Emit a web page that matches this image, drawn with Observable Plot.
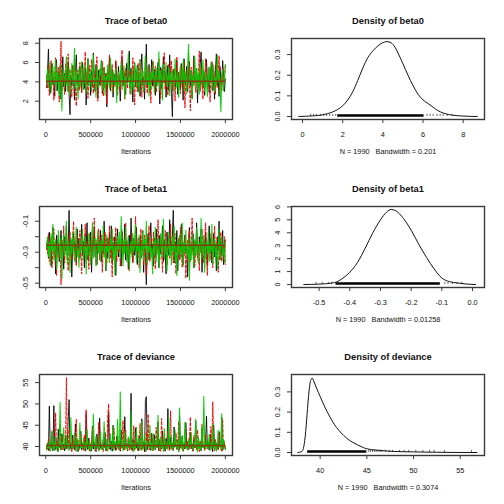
<!DOCTYPE html>
<html><head><meta charset="utf-8">
<script src="https://cdn.jsdelivr.net/npm/d3@7"></script>
<script src="https://cdn.jsdelivr.net/npm/@observablehq/plot@0.6"></script>
<style>
html,body{margin:0;padding:0;background:#fff;}
#grid{display:grid;grid-template-columns:252px 252px;grid-template-rows:168px 168px 168px;width:504px;height:504px;overflow:hidden;}
#grid svg{display:block;overflow:visible;}
</style></head><body><div id="grid"></div>
<script>
// ---- iterations (thinned draws: 10000 .. 2000000 every 10000) ----
const iterStart = 10000;
const iterThin = 10000;
const traceXTicks = [0, 500000, 1000000, 1500000, 2000000];

// ---- beta0 chains ----
const beta0Chain1 = [3.4,5.1,7.4,4.0,2.8,4.6,5.9,3.7,4.3,2.5,5.4,6.3,3.1,4.8,3.9,5.6,2.2,4.4,6.6,3.5,
4.9,3.0,5.2,4.1,6.1,2.7,0.6,4.5,3.6,5.7,4.2,2.1,5.0,6.8,3.8,4.7,3.2,5.5,4.0,2.9,
6.0,4.3,3.3,5.3,1.6,4.6,6.4,3.9,4.8,2.6,5.1,3.5,7.0,4.4,3.0,5.8,4.1,2.3,5.2,3.7,
4.5,6.2,2.8,4.0,5.5,3.4,4.9,1.4,5.0,4.2,6.7,3.1,4.6,5.3,2.4,4.8,3.8,6.1,4.3,3.2,
5.6,4.0,2.0,4.7,6.5,3.6,5.1,4.4,2.7,5.9,3.9,4.6,7.2,3.3,5.4,4.1,1.9,4.9,6.0,3.5,
4.2,5.7,3.0,4.8,2.5,5.2,6.9,3.7,4.5,2.2,5.0,7.9,3.4,4.3,5.8,2.9,4.6,6.3,3.6,4.1,
5.3,2.6,4.9,3.8,6.0,4.4,1.7,5.5,3.3,4.7,6.6,3.9,5.1,2.4,4.2,5.7,3.1,6.8,4.5,2.8,
0.4,4.6,5.3,3.5,4.0,6.2,2.7,5.0,4.3,3.2,5.9,4.8,2.1,6.4,3.7,4.4,5.6,3.0,4.9,6.1,
3.6,5.2,2.3,4.7,6.7,3.9,4.1,5.4,1.8,4.6,3.3,5.8,7.1,4.0,3.4,5.1,2.6,4.8,6.3,3.8,
4.5,2.9,5.5,4.2,6.0,3.1,4.9,2.2,5.3,6.9,3.7,4.4,2.5,5.6,4.1,3.5,6.2,4.7,3.0,4.3];
const beta0Chain2 = [4.7,3.3,5.8,2.6,4.4,6.2,3.9,5.1,2.1,4.9,6.5,3.6,4.2,5.5,1.9,4.6,8.2,3.2,5.0,4.1,
2.7,5.9,3.8,4.5,6.9,3.0,5.3,4.0,2.4,5.6,4.3,6.4,3.5,1.5,4.8,5.2,3.1,6.0,4.4,2.9,
5.4,3.7,4.6,7.1,3.3,5.0,2.3,4.2,5.7,3.9,6.3,4.7,2.8,5.1,3.4,4.9,6.6,2.0,4.5,5.3,
3.6,4.1,6.1,2.5,5.5,3.8,4.8,1.7,5.2,4.3,6.8,3.2,4.6,5.8,2.9,4.0,3.5,6.2,4.9,2.6,
5.0,4.4,3.1,5.7,7.3,3.7,4.2,2.2,5.4,4.7,3.3,6.0,4.5,2.7,5.1,3.9,6.5,4.1,1.6,5.3,
4.6,3.0,5.9,3.6,6.3,4.8,2.4,5.2,4.0,3.4,6.7,4.3,2.8,5.5,3.8,4.9,1.8,5.0,6.1,3.5,
4.2,5.6,2.9,4.7,3.9,6.4,4.4,2.3,5.3,3.7,4.8,7.0,3.2,5.1,4.1,2.6,5.8,3.6,4.5,6.2,
3.1,4.9,5.4,2.0,4.3,6.6,3.8,5.0,4.6,2.8,5.7,3.4,4.2,6.0,1.3,4.7,5.2,3.3,6.9,4.0,
1.0,5.5,4.4,3.7,6.3,4.1,2.9,5.1,3.5,4.8,7.2,3.0,5.6,4.3,2.2,5.0,3.9,6.4,4.6,3.2,
5.3,4.0,1.9,4.7,6.1,3.6,5.2,4.4,2.7,5.8,3.4,4.9,6.7,3.1,4.5,3.0,5.4,3.8,4.2,5.9];
const beta0Chain3 = [4.1,5.3,3.4,4.8,6.0,2.9,4.5,5.6,3.7,4.2,6.3,3.1,5.0,4.4,2.5,5.8,3.9,1.0,4.7,5.2,
3.6,4.9,6.6,3.0,4.3,5.5,2.7,4.0,5.9,3.8,4.6,7.5,3.3,5.1,4.2,2.2,5.4,3.5,4.8,6.1,
4.0,3.2,5.7,4.5,2.8,5.0,6.4,3.6,4.3,5.3,3.0,4.9,6.8,3.9,4.4,2.4,5.6,4.1,3.4,5.2,
4.7,6.2,3.1,4.2,5.5,2.6,4.6,3.8,5.8,4.0,3.3,6.5,4.8,2.9,5.1,4.3,3.7,5.4,1.8,4.5,
5.0,3.5,4.1,6.0,3.2,4.9,5.7,2.3,4.4,3.9,5.2,6.9,3.6,4.6,2.7,5.3,4.0,3.1,5.9,4.7,
3.4,5.5,4.2,2.8,6.3,3.8,4.8,5.1,3.0,4.5,6.7,3.7,4.1,5.6,2.5,4.9,3.3,5.0,4.3,6.1,
2.9,4.6,5.4,3.6,4.0,7.1,3.2,5.2,4.4,2.1,5.8,3.9,4.7,6.0,3.5,4.2,5.5,2.6,4.9,3.8,
5.3,4.1,3.0,6.4,4.6,3.4,5.0,2.4,4.8,5.7,3.7,4.3,6.2,3.1,5.1,4.5,2.8,5.6,7.9,3.9,
4.4,5.2,2.2,4.7,3.6,6.6,4.0,5.4,3.3,4.9,2.7,5.9,4.2,3.5,6.3,4.6,3.0,5.0,4.1,2.5,
5.5,3.8,4.8,6.0,3.2,4.3,5.7,2.9,4.5,3.6,6.8,4.0,5.1,3.4,0.9,4.7,5.3,3.1,4.2,5.8];

// ---- beta1 chains ----
const beta1Chain1 = [-0.28,-0.21,-0.34,-0.17,-0.25,-0.39,-0.23,-0.14,-0.30,-0.26,-0.44,-0.19,-0.32,-0.22,-0.36,-0.27,-0.16,-0.31,-0.24,-0.41,
-0.20,-0.29,-0.13,-0.35,-0.25,-0.03,-0.33,-0.22,-0.46,-0.27,-0.18,-0.30,-0.24,-0.37,-0.15,-0.28,-0.21,-0.34,-0.26,-0.12,
-0.32,-0.23,-0.40,-0.19,-0.27,-0.11,-0.35,-0.25,-0.30,-0.17,-0.43,-0.22,-0.28,-0.14,-0.33,-0.24,-0.38,-0.20,-0.29,-0.26,
-0.16,-0.36,-0.23,-0.31,-0.10,-0.27,-0.42,-0.21,-0.34,-0.25,-0.18,-0.30,-0.13,-0.37,-0.24,-0.29,-0.20,-0.45,-0.26,-0.15,
-0.33,-0.22,-0.28,-0.39,-0.17,-0.26,-0.31,-0.12,-0.35,-0.23,-0.27,-0.41,-0.19,-0.30,-0.08,-0.25,-0.36,-0.21,-0.32,-0.28,
-0.14,-0.38,-0.24,-0.29,-0.20,-0.34,-0.26,-0.16,-0.43,-0.22,-0.31,-0.51,-0.27,-0.18,-0.35,-0.23,-0.11,-0.30,-0.25,-0.39,
-0.21,-0.33,-0.15,-0.28,-0.24,-0.40,-0.19,-0.31,-0.26,-0.13,-0.36,-0.22,-0.29,-0.44,-0.17,-0.27,-0.32,-0.09,-0.25,-0.34,
-0.20,-0.03,-0.37,-0.23,-0.30,-0.16,-0.42,-0.26,-0.21,-0.33,-0.12,-0.28,-0.38,-0.24,-0.19,-0.31,-0.27,-0.46,-0.22,-0.14,
-0.35,-0.25,-0.29,-0.18,-0.40,-0.23,-0.32,-0.11,-0.27,-0.36,-0.20,-0.30,-0.15,-0.43,-0.26,-0.22,-0.34,-0.17,-0.28,-0.39,
-0.24,-0.13,-0.31,-0.21,-0.37,-0.27,-0.18,-0.33,-0.25,-0.42,-0.20,-0.29,-0.10,-0.35,-0.23,-0.30,-0.16,-0.38,-0.26,-0.22];
const beta1Chain2 = [-0.24,-0.31,-0.18,-0.36,-0.27,-0.21,-0.40,-0.29,-0.15,-0.33,-0.23,-0.45,-0.26,-0.19,-0.34,-0.28,-0.51,-0.22,-0.30,-0.13,
-0.37,-0.25,-0.20,-0.32,-0.42,-0.26,-0.17,-0.29,-0.35,-0.22,-0.10,-0.31,-0.27,-0.39,-0.19,-0.24,-0.33,-0.16,-0.28,-0.44,
-0.21,-0.30,-0.25,-0.12,-0.36,-0.23,-0.29,-0.41,-0.18,-0.27,-0.34,-0.20,-0.31,-0.08,-0.26,-0.38,-0.22,-0.30,-0.15,-0.35,
-0.28,-0.19,-0.43,-0.24,-0.32,-0.17,-0.27,-0.37,-0.21,-0.29,-0.13,-0.34,-0.25,-0.46,-0.20,-0.31,-0.26,-0.14,-0.36,-0.23,
-0.30,-0.22,-0.39,-0.27,-0.16,-0.33,-0.24,-0.29,-0.11,-0.35,-0.28,-0.20,-0.42,-0.25,-0.31,-0.18,-0.37,-0.23,-0.27,-0.07,
-0.34,-0.26,-0.21,-0.40,-0.29,-0.15,-0.32,-0.24,-0.38,-0.19,-0.28,-0.45,-0.23,-0.30,-0.13,-0.36,-0.26,-0.21,-0.33,-0.17,
-0.29,-0.41,-0.24,-0.31,-0.09,-0.27,-0.35,-0.20,-0.28,-0.43,-0.22,-0.32,-0.16,-0.26,-0.38,-0.25,-0.19,-0.34,-0.12,-0.30,
-0.23,-0.37,-0.27,-0.18,-0.44,-0.25,-0.31,-0.21,-0.35,-0.14,-0.29,-0.40,-0.24,-0.33,-0.20,-0.47,-0.27,-0.22,-0.30,-0.16,
-0.36,-0.26,-0.08,-0.32,-0.23,-0.39,-0.28,-0.19,-0.34,-0.25,-0.42,-0.21,-0.30,-0.15,-0.27,-0.37,-0.24,-0.11,-0.31,-0.45,
-0.22,-0.29,-0.35,-0.18,-0.27,-0.40,-0.25,-0.13,-0.33,-0.28,-0.21,-0.43,-0.30,-0.24,-0.17,-0.36,-0.26,-0.31,-0.20,-0.38];
const beta1Chain3 = [-0.27,-0.20,-0.33,-0.24,-0.38,-0.18,-0.29,-0.12,-0.35,-0.26,-0.22,-0.41,-0.30,-0.16,-0.25,-0.34,-0.21,-0.47,-0.28,-0.19,
-0.32,-0.25,-0.10,-0.37,-0.23,-0.29,-0.43,-0.21,-0.31,-0.17,-0.27,-0.36,-0.24,-0.14,-0.33,-0.28,-0.40,-0.22,-0.30,-0.26,
-0.15,-0.35,-0.27,-0.20,-0.44,-0.25,-0.32,-0.18,-0.29,-0.38,-0.23,-0.11,-0.34,-0.26,-0.21,-0.39,-0.28,-0.16,-0.31,-0.24,
-0.36,-0.22,-0.29,-0.13,-0.33,-0.27,-0.42,-0.19,-0.30,-0.25,-0.37,-0.21,-0.28,-0.15,-0.35,-0.24,-0.45,-0.26,-0.32,-0.20,
-0.28,-0.17,-0.34,-0.07,-0.25,-0.39,-0.22,-0.31,-0.14,-0.36,-0.27,-0.20,-0.41,-0.29,-0.23,-0.33,-0.18,-0.30,-0.26,-0.12,
-0.37,-0.24,-0.29,-0.19,-0.43,-0.26,-0.32,-0.16,-0.35,-0.22,-0.28,-0.10,-0.38,-0.25,-0.30,-0.20,-0.34,-0.27,-0.44,-0.23,
-0.31,-0.14,-0.36,-0.26,-0.21,-0.40,-0.28,-0.18,-0.33,-0.24,-0.09,-0.35,-0.27,-0.22,-0.42,-0.30,-0.17,-0.32,-0.25,-0.38,
-0.20,-0.29,-0.13,-0.36,-0.26,-0.45,-0.23,-0.31,-0.19,-0.34,-0.27,-0.11,-0.39,-0.24,-0.30,-0.16,-0.33,-0.28,-0.21,-0.48,
-0.25,-0.35,-0.18,-0.29,-0.40,-0.22,-0.32,-0.14,-0.27,-0.37,-0.24,-0.30,-0.08,-0.34,-0.26,-0.19,-0.43,-0.28,-0.23,-0.31,
-0.17,-0.36,-0.25,-0.30,-0.12,-0.38,-0.27,-0.21,-0.33,-0.24,-0.41,-0.29,-0.15,-0.35,-0.26,-0.20,-0.32,-0.28,-0.37,-0.23];

// ---- deviance chains ----
const devChain1 = [39.4,40.8,39.1,49.5,40.2,39.6,42.3,39.0,49.6,40.5,39.3,41.4,38.9,44.1,39.8,40.1,39.2,43.0,39.7,40.6,
39.0,41.9,39.5,40.3,46.2,51.0,39.4,40.9,39.1,42.7,40.0,39.3,45.3,39.8,41.2,38.8,40.4,39.6,43.6,39.2,
40.7,39.5,41.5,38.9,47.8,40.1,39.3,42.0,39.7,40.5,39.0,44.8,39.4,41.0,39.9,38.8,42.9,40.3,39.1,46.7,
39.6,40.2,39.2,41.7,39.8,43.3,39.0,40.6,39.5,48.1,40.0,39.3,41.3,38.9,45.0,39.7,40.8,39.1,42.4,40.1,
39.4,41.1,38.9,43.9,39.6,40.4,39.2,47.0,39.8,40.7,39.0,42.2,40.3,39.5,52.5,39.1,41.6,40.0,39.3,44.4,
39.7,40.9,39.0,42.6,39.4,40.2,46.5,39.6,41.0,38.8,50.8,51.7,39.3,41.8,39.9,40.5,39.1,43.1,40.1,39.5,
42.8,39.2,40.6,39.8,45.8,39.0,41.3,40.0,39.4,43.7,39.7,40.3,38.9,41.9,39.5,48.9,40.1,39.2,42.1,39.6,
40.8,39.1,44.6,39.9,40.4,39.3,41.5,38.8,47.3,40.2,39.6,42.5,39.0,40.7,39.4,45.6,39.8,41.1,39.2,40.0,
43.4,39.5,40.5,38.9,41.7,39.7,46.0,40.3,39.1,42.0,39.4,40.9,39.0,44.2,39.8,40.1,39.3,41.4,47.1,39.6,
40.6,39.2,42.9,39.9,40.2,38.8,45.1,39.5,41.2,39.0,40.8,39.4,43.5,40.0,39.7,46.8,39.1,41.6,40.4,39.3];
const devChain2 = [40.1,39.3,41.8,39.0,40.6,39.5,43.5,39.8,40.3,39.2,47.9,39.6,41.2,38.9,40.7,45.0,39.4,42.4,39.1,40.0,
39.7,41.0,56.2,40.4,39.3,44.0,39.8,40.9,38.8,42.1,39.5,40.2,39.0,46.4,39.9,41.5,39.2,40.5,43.1,39.6,
40.8,39.1,42.7,39.4,48.7,40.0,39.7,41.3,38.9,40.4,39.3,44.6,39.8,40.1,39.0,42.0,40.6,39.5,45.7,39.2,
41.1,39.8,40.3,38.8,43.0,39.6,40.7,39.1,47.0,50.0,39.4,41.7,39.9,40.5,39.2,44.3,39.7,40.0,39.3,42.5,
39.5,40.9,39.0,41.4,39.8,46.1,40.3,39.2,43.8,40.2,39.6,40.6,39.1,41.9,39.4,40.1,38.9,44.9,39.7,40.4,
42.2,39.3,40.8,39.6,45.4,40.0,39.1,41.6,39.5,40.2,38.8,43.4,39.9,47.6,39.2,40.7,39.7,42.8,40.3,39.0,
41.0,39.4,44.5,39.8,40.5,39.1,41.8,38.9,46.6,40.1,39.6,42.3,39.3,40.9,39.7,43.6,40.2,39.0,48.4,39.5,
40.6,39.2,41.5,39.9,43.2,40.0,39.4,45.9,39.1,40.8,39.7,42.0,38.9,40.3,39.5,44.1,39.8,41.2,39.3,40.4,
46.9,39.6,40.7,39.0,42.6,39.8,40.1,39.2,43.9,40.5,38.8,41.4,39.5,45.2,39.9,40.2,39.1,42.9,40.6,39.4,
41.1,39.7,40.0,44.7,39.3,50.5,40.4,39.0,41.7,39.6,40.8,39.2,43.3,39.9,40.3,38.9,46.3,39.5,41.0,39.8];
const devChain3 = [39.2,40.5,39.7,41.3,38.9,40.0,43.7,39.5,40.8,39.1,42.2,39.8,40.3,38.8,41.6,50.3,39.4,40.9,39.6,44.4,
40.1,39.3,42.7,39.9,40.6,39.0,41.1,46.8,39.5,40.2,39.7,43.1,40.4,38.9,41.8,39.2,40.7,45.5,39.6,40.0,
39.4,42.0,39.8,40.9,39.1,44.0,40.3,39.5,41.4,38.8,40.6,39.7,47.6,40.1,39.3,42.5,39.9,40.5,39.0,41.0,
43.4,39.6,40.2,39.2,45.8,40.8,39.4,41.7,38.9,40.4,39.8,42.9,40.0,39.5,44.8,39.1,41.2,40.6,39.7,46.3,
39.3,40.7,52.8,39.9,41.5,39.0,40.3,43.6,39.6,40.1,39.2,42.3,40.9,39.5,48.2,39.8,41.0,38.8,40.5,39.4,
44.6,40.0,39.7,41.9,39.1,40.6,46.0,39.3,40.2,42.8,39.6,38.9,41.3,40.4,39.8,45.1,39.5,40.8,39.0,43.0,
40.1,39.4,41.6,39.9,47.4,40.3,39.2,42.1,39.7,40.7,38.8,44.2,40.0,39.5,41.1,39.3,46.7,40.5,39.6,42.6,
39.1,40.9,39.8,43.8,40.2,39.4,41.4,38.9,49.0,40.4,39.7,42.4,39.0,40.6,45.7,39.5,40.1,39.2,41.8,40.8,
39.6,43.3,40.0,39.3,41.0,39.9,46.4,40.3,38.8,42.0,39.5,40.7,39.1,44.5,39.8,51.8,40.5,39.4,41.5,39.7,
40.2,42.9,39.0,40.8,39.6,45.3,40.1,39.3,41.2,38.9,40.4,43.9,39.8,40.6,39.2,47.7,39.5,41.7,40.0,39.4];

// ---- lowess smooth levels (per parameter) ----
const smoothBeta0 = [4.07];
const smoothBeta1 = [-0.256];
const smoothDev = [40.25];

// ---- density curves (x, density) ----
const densBeta0X = [-0.19,0.5,1.0,1.5,1.75,2.0,2.25,2.5,2.75,3.0,3.25,3.5,3.75,4.0,4.2,4.4,4.6,4.8,5.0,5.25,5.5,5.75,6.0,6.25,6.5,6.75,7.0,7.5,8.0,8.7];
const densBeta0Y = [0.0,0.003,0.008,0.022,0.034,0.052,0.08,0.12,0.175,0.235,0.285,0.318,0.342,0.358,0.363,0.358,0.336,0.298,0.255,0.2,0.15,0.108,0.08,0.063,0.045,0.028,0.017,0.006,0.002,0.0];
const densBeta1X = [-0.55,-0.5,-0.45,-0.425,-0.4,-0.375,-0.35,-0.325,-0.3,-0.28,-0.265,-0.25,-0.225,-0.2,-0.175,-0.15,-0.125,-0.1,-0.075,-0.05,-0.025,0.01];
const densBeta1Y = [0.0,0.03,0.15,0.45,0.95,1.7,2.8,4.0,5.0,5.6,5.8,5.7,5.1,4.2,3.1,2.1,1.2,0.5,0.22,0.12,0.05,0.0];
const densDevX = [37.6,38.0,38.2,38.4,38.6,38.8,39.0,39.15,39.3,39.6,40.0,40.5,41.0,41.5,42.0,42.5,43.0,43.5,44.0,44.5,45.0,46.0,47.0,48.0,50.0,52.0,54.0,56.8];
const densDevY = [0.0,0.004,0.02,0.08,0.19,0.30,0.36,0.368,0.355,0.32,0.277,0.225,0.18,0.14,0.11,0.085,0.065,0.05,0.038,0.027,0.018,0.012,0.008,0.005,0.003,0.0015,0.0005,0.0];

// ---- rug (observations) ----
const rugDenseBeta0 = [1.75, 6.05];
const rugSparseBeta0 = [0.4,0.55,0.7,0.9,1.05,1.2,1.35,1.5,1.65,6.2,6.35,6.5,6.7,6.85,7.0,7.2,7.45];
const rugDenseBeta1 = [-0.445, -0.105];
const rugSparseBeta1 = [-0.51,-0.49,-0.47,-0.46,-0.09,-0.08,-0.065,-0.05,-0.035];
const rugDenseDev = [38.66, 45.0];
const rugSparseDev = [45.2,45.4,45.6,45.8,46.0,46.2,46.4,46.6,47.0,47.4,47.75,48.5,49.0,49.5,50.25,51.0,51.7,52.2,53.3,56.2];

// ---- labels ----
const N = 1990;
const bandwidths = ["0.201", "0.01258", "0.3074"];
const paramNames = ["beta0", "beta1", "deviance"];

// ---- styling ----
const FONT = "'Liberation Sans', Arial, Helvetica, sans-serif";
const chainColors = ["#000000", "#FF0000", "#00CD00"];
const chainDash = [null, "3,1.8", "1.2,1"];
const chainWidth = [1.0, 1.0, 1.15];
const BOX = "#3a3a3a";
const TICKFS = 7.3;

function baseOpts(xDomain, yDomain) {
  return {
    width: 252, height: 168,
    marginLeft: 39, marginRight: 20, marginTop: 38, marginBottom: 49,
    style: {fontFamily: FONT, background: "#fff", color: "#111", overflow: "visible"},
    x: {domain: xDomain, axis: null},
    y: {domain: yDomain, axis: null}
  };
}

function commonMarks(title, xlabel, xTicks, xFormat, yTicks, yFormat) {
  return [
    Plot.frame({stroke: BOX, strokeWidth: 1.4}),
    Plot.axisX({ticks: xTicks, tickFormat: xFormat, tickSize: 4, tickPadding: 8.5, fontSize: TICKFS, label: null, stroke: BOX, strokeWidth: 1}),
    Plot.axisY({ticks: yTicks, tickFormat: yFormat, tickSize: 4, tickPadding: 7.5, tickRotate: -90, fontSize: TICKFS, label: null, stroke: BOX, strokeWidth: 1}),
    Plot.text([title], {frameAnchor: "top", dy: -21, fontWeight: "bold", fontSize: 9.3, fill: "#111"}),
    Plot.text([xlabel], {frameAnchor: "bottom", dy: 34, fontSize: TICKFS, fill: "#111"})
  ];
}

function tracePanel(name, chains, smooth, yDomain, yTicks, yFormat) {
  const marks = [];
  chains.forEach((vals, c) => {
    const data = vals.map((v, i) => ({iter: iterStart + i * iterThin, value: v}));
    marks.push(Plot.line(data, {x: "iter", y: "value", stroke: chainColors[c], strokeWidth: chainWidth[c],
      strokeDasharray: chainDash[c], strokeOpacity: c === 0 ? 0.85 : 0.95}));
  });
  const iterLast = iterStart + (chains[0].length - 1) * iterThin;
  marks.push(Plot.ruleY(smooth, {y: d => d, x1: () => iterStart, x2: () => iterLast, stroke: "#7d3f0c", strokeWidth: 1.5}));
  marks.push(...commonMarks("Trace of " + name, "Iterations", traceXTicks, d3.format("d"), yTicks, yFormat));
  return Plot.plot({...baseOpts([-69600, 2079600], yDomain), marks});
}

function densityPanel(name, xs, ys, dense, sparse, bw, xDomain, yDomain, xTicks, xFormat, yTicks, yFormat) {
  const curve = xs.map((x, i) => ({x, y: ys[i]}));
  const rugTop = (yDomain[1] - yDomain[0]) * 2.2 / 81;
  const marks = [
    Plot.ruleY([{y: 0, x1: dense[0], x2: dense[1]}], {y: "y", x1: "x1", x2: "x2", stroke: "#000", strokeWidth: 2.4, dy: -1}),
    Plot.ruleX(sparse, {x: d => d, y1: () => 0, y2: () => rugTop, stroke: "#444", strokeWidth: 0.8}),
    Plot.line(curve, {x: "x", y: "y", curve: "monotone-x", stroke: "#111", strokeWidth: 1})
  ];
  marks.push(...commonMarks("Density of " + name, "N = " + N + "\u00a0\u00a0\u00a0Bandwidth = " + bw, xTicks, xFormat, yTicks, yFormat));
  return Plot.plot({...baseOpts(xDomain, yDomain), marks});
}

const grid = document.getElementById("grid");
const f1 = d3.format(".1f");

grid.append(tracePanel(paramNames[0], [beta0Chain1, beta0Chain2, beta0Chain3], smoothBeta0,
  [0.10, 8.49], [2, 4, 6, 8], d3.format("d")));
grid.append(densityPanel(paramNames[0], densBeta0X, densBeta0Y, rugDenseBeta0, rugSparseBeta0, bandwidths[0],
  [-0.55, 9.06], [-0.0146, 0.378], [0, 2, 4, 6, 8], d3.format("d"), [0, 0.1, 0.2, 0.3], f1));

grid.append(tracePanel(paramNames[1], [beta1Chain1, beta1Chain2, beta1Chain3], smoothBeta1,
  [-0.528, -0.005], [-0.5, -0.4, -0.3, -0.2, -0.1], d => (Math.round(d * 10) % 2 !== 0 ? f1(d).replace("−", "-") : "")));
grid.append(densityPanel(paramNames[1], densBeta1X, densBeta1Y, rugDenseBeta1, rugSparseBeta1, bandwidths[1],
  [-0.59, 0.039], [-0.23, 6.03], [-0.5, -0.4, -0.3, -0.2, -0.1, 0.0], d => f1(d).replace("−", "-"), [0, 1, 2, 3, 4, 5, 6], d3.format("d")));

grid.append(tracePanel(paramNames[2], [devChain1, devChain2, devChain3], smoothDev,
  [37.9, 56.9], [40, 45, 50, 55], d3.format("d")));
grid.append(densityPanel(paramNames[2], densDevX, densDevY, rugDenseDev, rugSparseDev, bandwidths[2],
  [36.93, 57.6], [-0.0148, 0.386], [40, 45, 50, 55], d3.format("d"), [0, 0.1, 0.2, 0.3], f1));
</script></body></html>
